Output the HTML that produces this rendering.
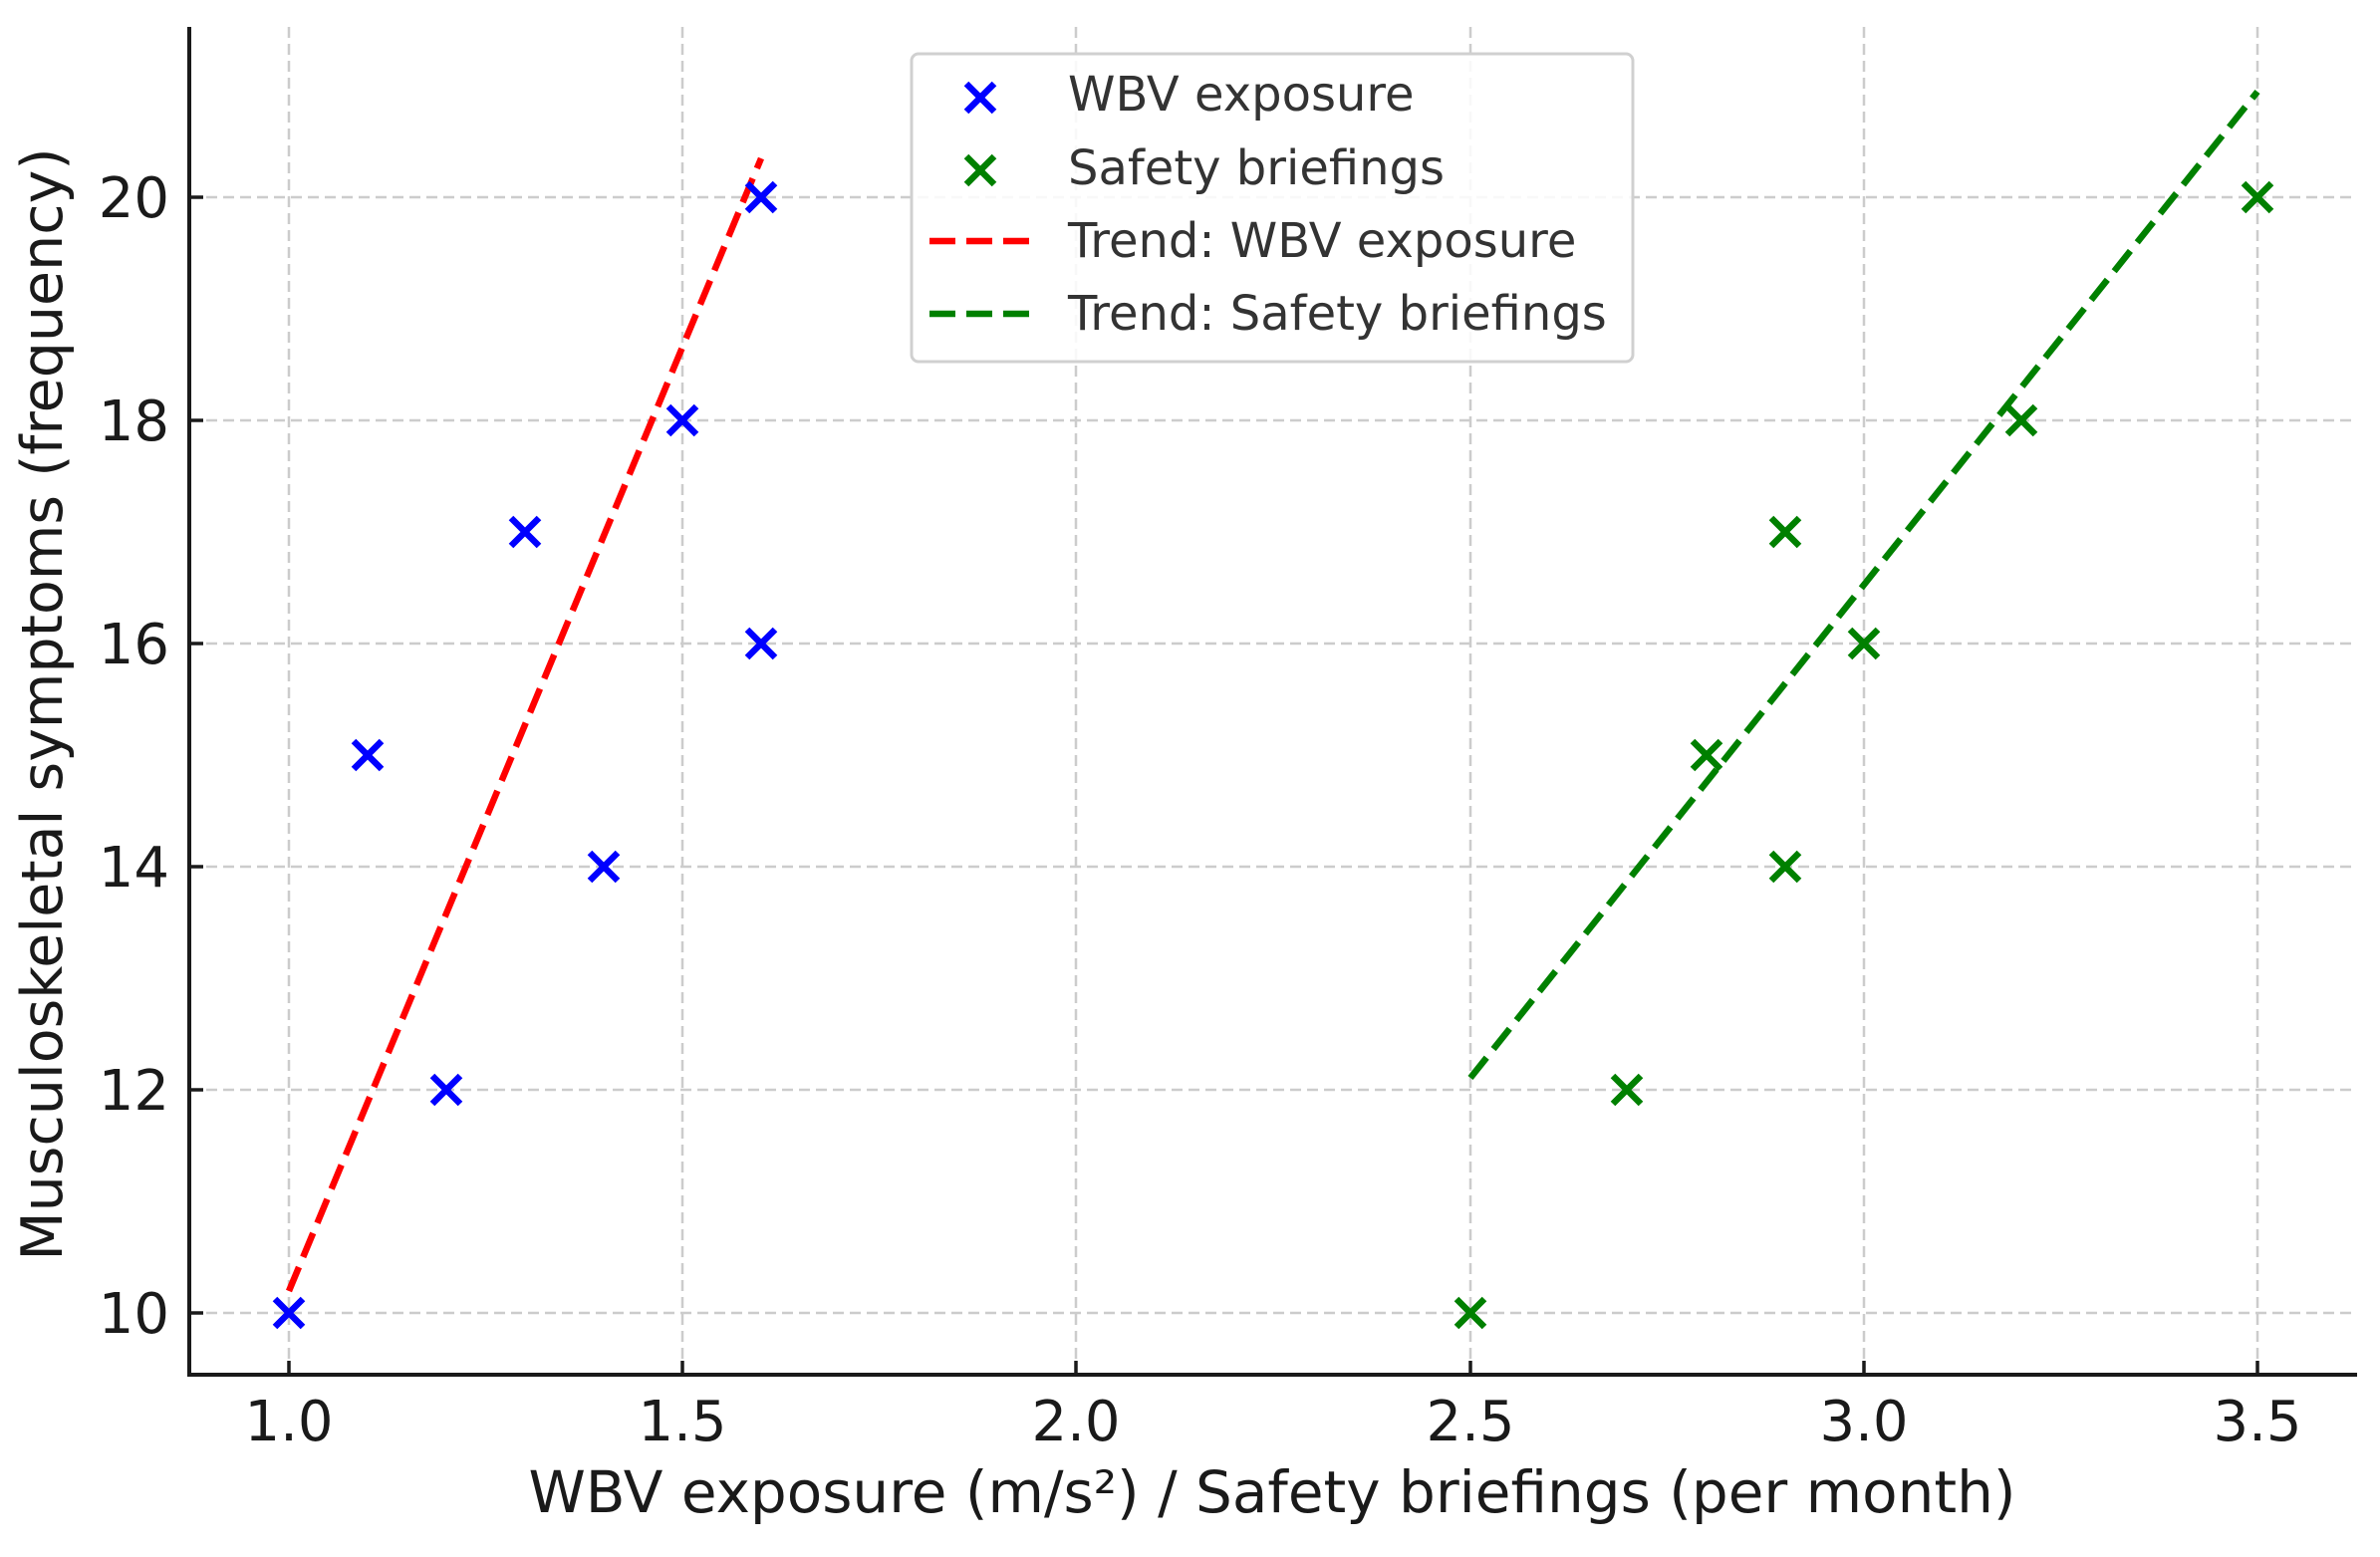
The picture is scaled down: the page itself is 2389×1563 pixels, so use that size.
<!DOCTYPE html>
<html><head><meta charset="utf-8"><style>html,body{margin:0;padding:0;background:#fff}</style></head>
<body>
<svg width="2389" height="1558" viewBox="0 0 2389 1558" xmlns="http://www.w3.org/2000/svg" font-family="DejaVu Sans, Liberation Sans, sans-serif">
<rect width="2389" height="1558" fill="#fff"/>
<g stroke="#cccccc" stroke-width="2.5" stroke-dasharray="11,6">
<line x1="290" y1="27" x2="290" y2="1380"/>
<line x1="685" y1="27" x2="685" y2="1380"/>
<line x1="1080" y1="27" x2="1080" y2="1380"/>
<line x1="1476" y1="27" x2="1476" y2="1380"/>
<line x1="1871" y1="27" x2="1871" y2="1380"/>
<line x1="2266" y1="27" x2="2266" y2="1380"/>
<line x1="190" y1="1318" x2="2364" y2="1318"/>
<line x1="190" y1="1094" x2="2364" y2="1094"/>
<line x1="190" y1="870" x2="2364" y2="870"/>
<line x1="190" y1="646" x2="2364" y2="646"/>
<line x1="190" y1="422" x2="2364" y2="422"/>
<line x1="190" y1="198" x2="2364" y2="198"/>
</g>
<g stroke="#1a1a1a" stroke-width="4" fill="none">
<path d="M190 27 V1380 H2366"/>
<g stroke-width="3.5"><line x1="290" y1="1380" x2="290" y2="1366"/><line x1="685" y1="1380" x2="685" y2="1366"/><line x1="1080" y1="1380" x2="1080" y2="1366"/><line x1="1476" y1="1380" x2="1476" y2="1366"/><line x1="1871" y1="1380" x2="1871" y2="1366"/><line x1="2266" y1="1380" x2="2266" y2="1366"/>
<line x1="190" y1="1318" x2="204" y2="1318"/><line x1="190" y1="1094" x2="204" y2="1094"/><line x1="190" y1="870" x2="204" y2="870"/><line x1="190" y1="646" x2="204" y2="646"/><line x1="190" y1="422" x2="204" y2="422"/><line x1="190" y1="198" x2="204" y2="198"/></g>
</g>
<g font-size="56" fill="#1a1a1a" text-anchor="middle">
<text x="290" y="1446">1.0</text><text x="685" y="1446">1.5</text><text x="1080" y="1446">2.0</text><text x="1476" y="1446">2.5</text><text x="1871" y="1446">3.0</text><text x="2266" y="1446">3.5</text>
</g>
<g font-size="56" fill="#1a1a1a" text-anchor="end">
<text x="170" y="1338">10</text><text x="170" y="1114">12</text><text x="170" y="890">14</text><text x="170" y="666">16</text><text x="170" y="442">18</text><text x="170" y="218">20</text>
</g>
<text x="1277" y="1518" font-size="58" fill="#1a1a1a" text-anchor="middle">WBV exposure (m/s²) / Safety briefings (per month)</text>
<text transform="translate(62,707) rotate(-90)" font-size="57" fill="#1a1a1a" text-anchor="middle">Musculoskeletal symptoms (frequency)</text>
<line x1="290" y1="1296" x2="764" y2="159" stroke="#ff0000" stroke-width="6.5" stroke-dasharray="26,11"/>
<line x1="1476" y1="1082" x2="2266" y2="92" stroke="#008000" stroke-width="6.5" stroke-dasharray="26,11"/>
<defs>
<path id="m" d="M-14 -14 L14 14 M-14 14 L14 -14" stroke-width="6.5" fill="none"/>
</defs>
<g stroke="#0000ff">
<use href="#m" x="290" y="1318"/><use href="#m" x="369" y="758"/><use href="#m" x="448" y="1094"/><use href="#m" x="527" y="534"/><use href="#m" x="606" y="870"/><use href="#m" x="685" y="422"/><use href="#m" x="764" y="198"/><use href="#m" x="764" y="646"/>
</g>
<g stroke="#008000">
<use href="#m" x="1476" y="1318"/><use href="#m" x="1633" y="1094"/><use href="#m" x="1713" y="758"/><use href="#m" x="1792" y="534"/><use href="#m" x="1792" y="870"/><use href="#m" x="1871" y="646"/><use href="#m" x="2029" y="422"/><use href="#m" x="2266" y="198"/>
</g>
<rect x="915" y="54" width="724" height="309" rx="7" fill="#fff" fill-opacity="0.85" stroke="#d0d0d0" stroke-width="3"/>
<use href="#m" x="984" y="98" stroke="#0000ff"/>
<use href="#m" x="984" y="171" stroke="#008000"/>
<line x1="933" y1="242" x2="1034" y2="242" stroke="#ff0000" stroke-width="6.5" stroke-dasharray="26,11"/>
<line x1="933" y1="315" x2="1034" y2="315" stroke="#008000" stroke-width="6.5" stroke-dasharray="26,11"/>
<g font-size="48" fill="#333">
<text x="1072" y="111">WBV exposure</text>
<text x="1072" y="185">Safety briefings</text>
<text x="1072" y="258">Trend: WBV exposure</text>
<text x="1072" y="331">Trend: Safety briefings</text>
</g>
</svg>
</body></html>
